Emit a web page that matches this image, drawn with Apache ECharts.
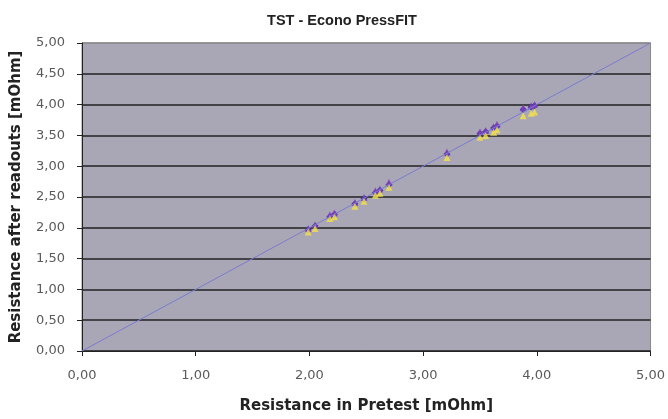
<!DOCTYPE html>
<html>
<head>
<meta charset="utf-8">
<script src="https://cdn.jsdelivr.net/npm/echarts@6/dist/echarts.min.js"></script>
<style>
  html, body { margin: 0; padding: 0; background: #fff; }
  #chart { width: 668px; height: 419px; }
</style>
</head>
<body>
<div id="chart"></div>
<script>
// Resistance in pretest (x) vs. after readouts (y), mOhm
const pretest = [1.99, 2.05, 2.18, 2.22, 2.40, 2.48, 2.58, 2.62, 2.70, 3.21, 3.50, 3.55, 3.62, 3.65, 3.88, 3.95, 3.98];
const readoutA = [1.97, 2.03, 2.18, 2.22, 2.39, 2.47, 2.57, 2.61, 2.70, 3.20, 3.53, 3.56, 3.62, 3.65, 3.92, 3.96, 3.98];
const readoutB = [1.99, 2.05, 2.21, 2.24, 2.41, 2.49, 2.60, 2.63, 2.74, 3.23, 3.56, 3.58, 3.64, 3.68, 3.95, 3.98, 4.00];
const readoutC = [1.93, 1.99, 2.15, 2.18, 2.35, 2.43, 2.53, 2.56, 2.66, 3.14, 3.47, 3.50, 3.55, 3.59, 3.82, 3.86, 3.88];
const refLine = [[0, 0], [5, 5]];

const fmt = (v) => v.toFixed(2).replace('.', ',');
const pairs = (ys) => pretest.map((x, i) => [x, ys[i]]);

// Excel-style gridlines: black inside, grey at the top edge
const gridColors = ['#222', '#222', '#222', '#222', '#222', '#222', '#222', '#222', '#222', '#222', '#8a8a8a'];

const nameFont = { fontFamily: 'DejaVu Sans', fontSize: 15, fontWeight: 'bold', color: '#222' };
const labelFont = { fontFamily: 'DejaVu Sans', fontSize: 13, color: '#5a5a5a' };

const chart = echarts.init(document.getElementById('chart'));
chart.setOption({
  animation: false,
  title: {
    text: 'TST - Econo PressFIT',
    left: 337,
    textAlign: 'center',
    top: 8,
    textStyle: { fontFamily: 'Liberation Sans', fontSize: 14.5, fontWeight: 'bold', color: '#222' }
  },
  grid: {
    left: 82, right: 15, top: 43, bottom: 66,
    show: true, backgroundColor: '#a9a7b6', borderColor: '#8a8a8a', borderWidth: 1
  },
  xAxis: {
    type: 'value', min: 0, max: 5, interval: 1,
    name: 'Resistance in Pretest [mOhm]',
    nameLocation: 'middle', nameGap: 48,
    nameTextStyle: nameFont,
    axisLine: { lineStyle: { color: '#222', width: 1 } },
    axisTick: { show: true, length: 5, lineStyle: { color: '#222' } },
    axisLabel: Object.assign({ formatter: fmt, margin: 18 }, labelFont),
    splitLine: { show: false }
  },
  yAxis: {
    type: 'value', min: 0, max: 5, interval: 0.5,
    name: 'Resistance after readouts [mOhm]',
    nameLocation: 'middle', nameGap: 58,
    nameTextStyle: nameFont,
    axisLine: { lineStyle: { color: '#222', width: 1 } },
    axisTick: { show: true, length: 5, lineStyle: { color: '#222' } },
    axisLabel: Object.assign({ formatter: fmt, margin: 17 }, labelFont),
    splitLine: { show: true, lineStyle: { color: gridColors, width: 1.5 } }
  },
  series: [
    {
      type: 'line', data: refLine, symbol: 'none', silent: true,
      lineStyle: { color: '#7b7bd0', width: 1 }
    },
    {
      type: 'scatter', data: pairs(readoutA), symbol: 'diamond', symbolSize: 7,
      itemStyle: { color: '#1e1e8c' }
    },
    {
      type: 'scatter', data: pairs(readoutB), symbol: 'triangle', symbolSize: 7,
      itemStyle: { color: '#8440c0' }
    },
    {
      type: 'scatter', data: pairs(readoutC), symbol: 'triangle', symbolSize: 7,
      itemStyle: { color: '#f2e24a' }
    }
  ]
});
</script>
</body>
</html>
